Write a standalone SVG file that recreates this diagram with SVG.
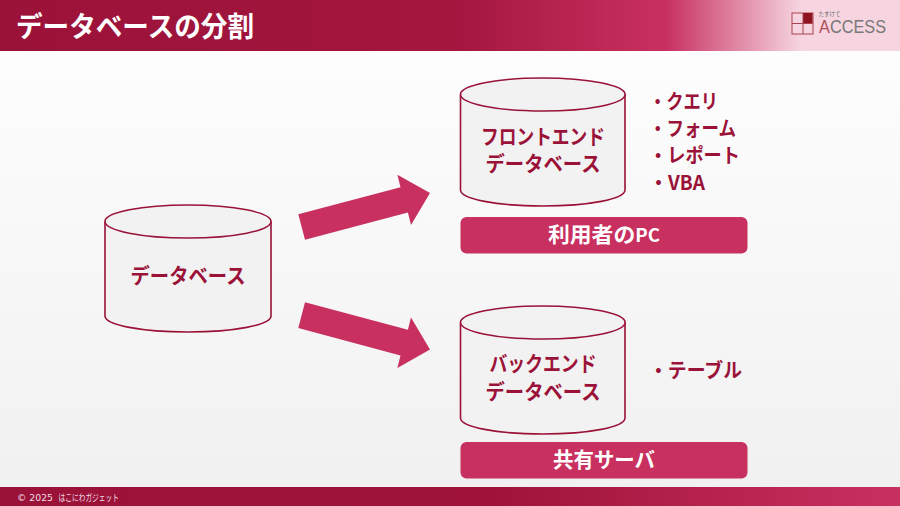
<svg xmlns="http://www.w3.org/2000/svg" width="900" height="506" viewBox="0 0 900 506">
<style>
text{font-family:"Noto Sans CJK JP","Noto Sans",sans-serif;font-weight:700;fill:#9b1239}
.c{text-anchor:middle}
.l{font-size:20px}
.n{font-size:21px}
.w{fill:#fff;font-size:21px}
.cyl{fill:#f2f2f2;stroke:#9b1239;stroke-width:1.6}
.bar{fill:#c83060}
.arrow{fill:#c83060}
</style>
<defs>
<linearGradient id="bg" x1="0" y1="0" x2="0" y2="1"><stop offset="0" stop-color="#fff"/><stop offset="1" stop-color="#f0f0f0"/></linearGradient>
<linearGradient id="hd" x1="0" y1="0" x2="1" y2="0"><stop offset="0" stop-color="#9b1239"/><stop offset=".5" stop-color="#a3163e"/><stop offset=".74" stop-color="#c83060"/><stop offset=".89" stop-color="#f6d5e0"/><stop offset="1" stop-color="#f6d5e0"/></linearGradient>
<linearGradient id="ft" x1="0" y1="0" x2="1" y2="0"><stop offset="0" stop-color="#9b1239"/><stop offset=".55" stop-color="#9f1339"/><stop offset="1" stop-color="#c83060"/></linearGradient>
</defs>
<rect width="900" height="506" fill="url(#bg)"/>
<g id="header">
<rect width="900" height="51" fill="url(#hd)"/>
<text x="16" y="37" style="fill:#fff;font-size:28px" textLength="238" lengthAdjust="spacingAndGlyphs">データベースの分割</text>
</g>
<g id="logo">
<rect x="792" y="13" width="21" height="21" fill="#f6d5e0" stroke="#a8434f" stroke-width="1"/>
<rect x="803" y="13" width="9.500" height="10.500" fill="#8c1420"/>
<path d="M792 23.500H813M803 13V34" fill="none" stroke="#a8434f" stroke-width="1"/>
<text x="818.500" y="16" style="font-size:5.500px;font-weight:400;fill:#666">たすけて</text>
<text x="819" y="33" style="font-family:'Liberation Sans',sans-serif;font-size:19px;font-weight:400;fill:#777" textLength="67" lengthAdjust="spacingAndGlyphs"><tspan fill="#b0505c">A</tspan>CCESS</text>
</g>
<g id="connectors">
<path class="arrow" d="M298.300 214.300L400.500 187.200L397.400 174.700L430 193L411 225L407.900 212.600L305 239.800Z"/>
<path class="arrow" d="M305 302.300L407.900 329.800L411 317.500L430 349.500L397.400 368L400.500 355.500L298.300 328Z"/>
</g>
<g id="db-main">
<path class="cyl" d="M105 221.500V316C105 325 142 332 188 332S271 325 271 316V221.500"/>
<ellipse class="cyl" cx="188" cy="221.500" rx="83" ry="16.500"/>
<text class="c n" x="188" y="283" textLength="115" lengthAdjust="spacingAndGlyphs">データベース</text>
</g>
<g id="db-front">
<path class="cyl" d="M460.500 94.500V190C460.500 199 497 206 543 206S625 199 625 190V94.500"/>
<ellipse class="cyl" cx="542.800" cy="94.500" rx="82.300" ry="16.500"/>
<text class="c n" x="543" y="144" textLength="124" lengthAdjust="spacingAndGlyphs">フロントエンド</text>
<text class="c n" x="543" y="171" textLength="115" lengthAdjust="spacingAndGlyphs">データベース</text>
</g>
<g id="list-front">
<text class="l" x="649" y="109" textLength="69" lengthAdjust="spacingAndGlyphs">・クエリ</text>
<text class="l" x="649" y="136" textLength="87" lengthAdjust="spacingAndGlyphs">・フォーム</text>
<text class="l" x="649" y="163" textLength="91" lengthAdjust="spacingAndGlyphs">・レポート</text>
<text class="l" x="649" y="190" textLength="56" lengthAdjust="spacingAndGlyphs">・VBA</text>
</g>
<g id="bar-pc">
<rect class="bar" x="460.500" y="217" width="287" height="36.500" rx="6"/>
<text class="c w" x="604" y="242" textLength="112" lengthAdjust="spacingAndGlyphs">利用者の<tspan font-size="18">PC</tspan></text>
</g>
<g id="db-back">
<path class="cyl" d="M460.500 322.500V418C460.500 427 497 434 543 434S625 427 625 418V322.500"/>
<ellipse class="cyl" cx="542.800" cy="322.500" rx="82.300" ry="16.500"/>
<text class="c n" x="543" y="371" textLength="107" lengthAdjust="spacingAndGlyphs">バックエンド</text>
<text class="c n" x="543" y="399" textLength="115" lengthAdjust="spacingAndGlyphs">データベース</text>
</g>
<g id="list-back">
<text class="l" x="649" y="378" textLength="93" lengthAdjust="spacingAndGlyphs">・テーブル</text>
</g>
<g id="bar-server">
<rect class="bar" x="460.500" y="442" width="287" height="36.500" rx="6"/>
<text class="c w" x="604" y="467" textLength="102" lengthAdjust="spacingAndGlyphs">共有サーバ</text>
</g>
<g id="footer">
<rect y="487" width="900" height="19" fill="url(#ft)"/>
<text x="17" y="501" style="fill:#f0dfe4;font-size:9.500px;font-weight:400"><tspan style="font-family:'DejaVu Sans',sans-serif" textLength="36" lengthAdjust="spacingAndGlyphs">© 2025</tspan><tspan x="57" textLength="62" lengthAdjust="spacingAndGlyphs"> はこにわガジェット</tspan></text>
</g>
</svg>
